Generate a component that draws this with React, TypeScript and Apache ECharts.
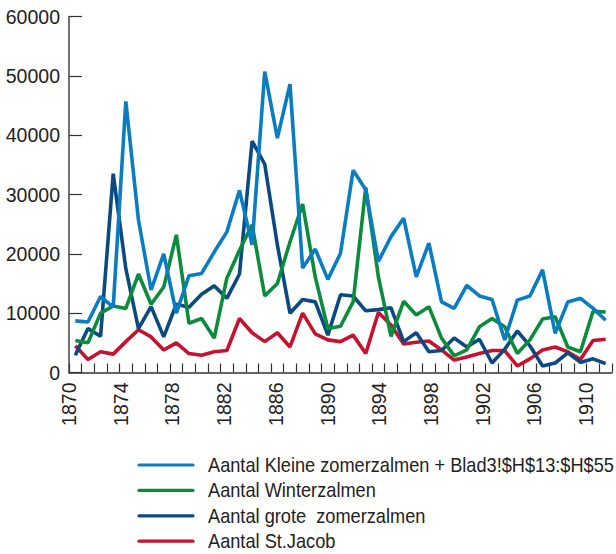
import React, { useEffect, useRef } from "react";
import * as echarts from "echarts";

const years: string[] = [];
for (let y = 1870; y <= 1912; y++) years.push(String(y));

const seriesNames = [
  "Aantal Kleine zomerzalmen + Blad3!$H$13:$H$55",
  "Aantal Winterzalmen",
  "Aantal grote  zomerzalmen",
  "Aantal St.Jacob",
];

const kleine = [
  8700, 8500, 12800, 11000, 45700, 25700, 13900, 20000, 10000, 16300,
  16700, 20300, 23700, 30700, 21500, 50700, 39500, 48600, 17600, 20800,
  15700, 20100, 34100, 30800, 18700, 22900, 26000, 16100, 21800, 11900,
  10800, 14700, 12900, 12300, 5500, 12200, 12900, 17300, 6600, 11900,
  12500, 10800, 8800,
];
const winter = [
  5400, 5000, 10000, 11200, 10800, 16600, 11500, 14400, 23200, 8300,
  9100, 5800, 15900, 20600, 24900, 12900, 15000, 22000, 28400, 16100,
  7400, 7800, 11900, 31200, 16100, 6100, 12000, 9700, 11100, 5800,
  2800, 3800, 7700, 9100, 7700, 3200, 5500, 9000, 9400, 4300,
  3500, 10300, 10200,
];
const grote = [
  2900, 7400, 6100, 33500, 17500, 7400, 11100, 6000, 11500, 11000,
  13200, 14600, 12500, 16600, 39000, 35100, 21500, 10000, 12300, 11900,
  6300, 13100, 12900, 10400, 10600, 10900, 5200, 6700, 3500, 3700,
  5800, 4300, 5600, 1600, 3900, 7000, 4500, 1100, 1600, 3300,
  1700, 2300, 1500,
];
const jacob = [
  4500, 2200, 3500, 3100, 5200, 7200, 6000, 3800, 5000, 3200,
  2900, 3500, 3700, 9100, 6700, 5200, 6700, 4300, 10000, 6500,
  5500, 5200, 6300, 3200, 10100, 8000, 4800, 5100, 5300, 3800,
  2100, 2600, 3200, 3700, 3700, 1100, 2300, 3800, 4300, 3500,
  2200, 5400, 5600,
];

const colors = ["#0a7dc2", "#0b8c3c", "#0a4a80", "#c4122f"];
const dataSets = [kleine, winter, grote, jacob];

const FONT = "'Liberation Sans', Arial, sans-serif";

export default function App() {
  const ref = useRef<HTMLDivElement>(null);
  useEffect(() => {
    document.body.style.margin = "0";
    if (!ref.current) return;
    const chart = echarts.init(ref.current, null, { renderer: "svg" });

    const legendTop = 465;
    const legendStep = 25.4;
    const legendGraphics: any[] = [];
    seriesNames.forEach((name, i) => {
      const y = legendTop + i * legendStep;
      legendGraphics.push({
        type: "line",
        shape: { x1: 139, y1: y, x2: 193, y2: y },
        style: { stroke: colors[i], lineWidth: 3.2, lineCap: "round" },
      });
      legendGraphics.push({
        type: "text",
        x: 208,
        y: y,
        scaleX: 0.91,
        style: {
          text: name,
          fontSize: 20,
          fontFamily: FONT,
          fill: "#222",
          verticalAlign: "middle",
          align: "left",
        },
      });
    });

    chart.setOption({
      animation: false,
      backgroundColor: "#fff",
      grid: {
        left: 69,
        right: 4,
        top: 16.5,
        bottom: 181.5,
        containLabel: false,
        outerBoundsMode: "none",
      },
      xAxis: [
        {
          type: "category",
          data: years,
          boundaryGap: true,
          position: "bottom",
          axisLine: { show: true, lineStyle: { color: "#333", width: 1.5 } },
          axisTick: { show: true, inside: true, length: 9, interval: 0, lineStyle: { color: "#333", width: 1.2 } },
          axisLabel: { show: false },
          splitLine: { show: false },
        },
        {
          type: "category",
          data: years,
          boundaryGap: false,
          position: "bottom",
          axisLine: { show: false },
          axisTick: { show: false },
          axisLabel: {
            show: true,
            interval: 3,
            rotate: 90,
            margin: 10,
            fontSize: 19.5,
            fontFamily: FONT,
            color: "#222",
          },
          splitLine: { show: false },
        },
      ],
      yAxis: {
        type: "value",
        min: 0,
        max: 60000,
        interval: 10000,
        axisLine: { show: true, lineStyle: { color: "#444", width: 1.5 } },
        axisTick: { show: true, inside: true, length: 13, lineStyle: { color: "#333", width: 1.2 } },
        axisLabel: {
          fontSize: 19.5,
          fontFamily: FONT,
          color: "#222",
          margin: 9,
          formatter: (v: number) => String(v),
        },
        splitLine: { show: false },
      },
      graphic: legendGraphics,
      series: dataSets.map((d, i) => ({
        name: seriesNames[i],
        type: "line",
        xAxisIndex: 0,
        data: d,
        showSymbol: false,
        symbol: "none",
        lineStyle: { color: colors[i], width: 3.6 },
        itemStyle: { color: colors[i] },
        z: 10 - i,
      })),
    });
    return () => chart.dispose();
  }, []);
  return <div ref={ref} style={{ width: 616, height: 554 }} />;
}
